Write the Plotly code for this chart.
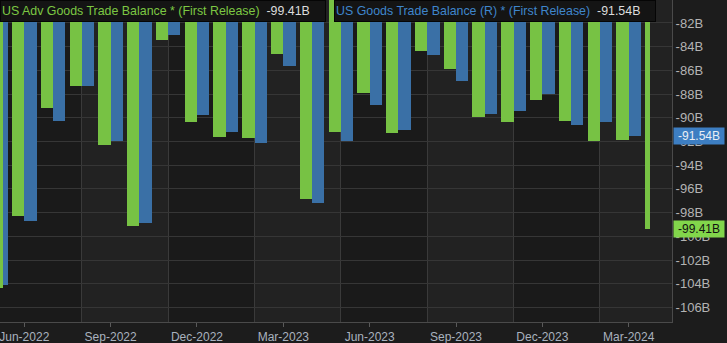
import plotly.graph_objects as go

# Monthly releases, May-2022 .. Apr-2024 (billions USD)
months = ["May-2022", "Jun-2022", "Jul-2022", "Aug-2022", "Sep-2022", "Oct-2022",
          "Nov-2022", "Dec-2022", "Jan-2023", "Feb-2023", "Mar-2023", "Apr-2023",
          "May-2023", "Jun-2023", "Jul-2023", "Aug-2023", "Sep-2023", "Oct-2023",
          "Nov-2023", "Dec-2023", "Jan-2024", "Feb-2024", "Mar-2024", "Apr-2024"]

adv_goods = [-104.4, -98.26, -89.15, -87.32, -92.3, -99.1,
             -83.43, -90.33, -91.6, -91.73, -84.64, -96.88,
             -91.2, -87.9, -91.28, -84.36, -85.86, -89.93,
             -90.33, -88.53, -90.27, -91.93, -91.9, -99.41]

goods_r = [-104.1, -98.68, -90.24, -87.3, -91.98, -98.9,
           -82.99, -89.76, -91.17, -92.1, -85.6, -97.19,
           -91.96, -88.92, -91.0, -84.7, -86.92, -89.65,
           -89.4, -87.97, -90.6, -90.38, -91.54, None]

tick_idx = [1, 4, 7, 10, 13, 16, 19, 22]
tick_text = [months[i] for i in tick_idx]
quarter_lines = [3, 6, 9, 12, 15, 18, 21]
y_ticks = list(range(-82, -107, -2))

GREEN = "#77c244"
BLUE = "#3a70a6"
FONT = "Liberation Sans, Arial"

x = list(range(len(months)))
n = len(months)

# bar geometry in month units
bw = 0.427
green_off = [-bw] * n
green_w = [bw] * n
blue_off = [0.0] * n
blue_w = [bw] * n
# first (partially visible) and latest groups are drawn narrower
green_off[0] = 0.25 - bw
blue_off[0] = 0.25
blue_w[0] = 0.174
green_w[-1] = 0.174

fig = go.Figure()
fig.add_trace(go.Bar(x=x, y=adv_goods, offset=green_off, width=green_w,
                     marker=dict(color=GREEN, line=dict(width=0)),
                     name="US Adv Goods Trade Balance * (First Release)"))
fig.add_trace(go.Bar(x=x, y=goods_r, offset=blue_off, width=blue_w,
                     marker=dict(color=BLUE, line=dict(width=0)),
                     name="US Goods Trade Balance (R) * (First Release)"))

x_min, x_max = 0.156, 23.505

# alternating quarter bands, lighter ones
shapes = []
band_edges = [x_min] + quarter_lines + [x_max]
for k in range(len(band_edges) - 1):
    if k % 2 == 1:
        shapes.append(dict(type="rect", xref="x", yref="paper",
                           x0=band_edges[k], x1=band_edges[k + 1], y0=0, y1=1,
                           fillcolor="#222222", line=dict(width=0), layer="below"))

# legend boxes along the top
def head(label, color, value):
    return (f"<span style='color:{color}'>{label}</span>"
            f"  <span style='color:#dcdcdc'>{value}</span>")

annotations = [
    dict(xref="paper", yref="paper", x=0, y=1, xanchor="left", yanchor="top",
         text=head("US Adv Goods Trade Balance * (First Release)", "#7cc843",
                   f"{adv_goods[-1]:.2f}B"),
         showarrow=False, align="left", width=322, height=18,
         bgcolor="#141414", bordercolor="#050505", borderwidth=1, borderpad=1,
         font=dict(family=FONT, size=12.4)),
    dict(xref="paper", yref="paper", x=334 / 672, y=1, xanchor="left", yanchor="top",
         text=head("US Goods Trade Balance (R) * (First Release)", "#3f86cc",
                   f"{goods_r[-2]:.2f}B"),
         showarrow=False, align="left", width=318, height=18,
         bgcolor="#141414", bordercolor="#050505", borderwidth=1, borderpad=1,
         font=dict(family=FONT, size=12.4)),
    # last-value tags on the value axis
    dict(xref="paper", yref="y", x=1.0, y=goods_r[-2], xanchor="left", yanchor="middle",
         text=f"{goods_r[-2]:.2f}B", showarrow=False, xshift=1,
         bgcolor="#3d7ec2", borderpad=1, width=48,
         font=dict(family=FONT, size=12, color="#e8eef5")),
    dict(xref="paper", yref="y", x=1.0, y=adv_goods[-1], xanchor="left", yanchor="middle",
         text=f"{adv_goods[-1]:.2f}B", showarrow=False, xshift=1,
         bgcolor="#82d64b", borderpad=1, width=48,
         font=dict(family=FONT, size=12, color="#111111")),
]

fig.update_layout(
    width=727, height=343,
    margin=dict(l=0, r=55, t=0, b=21, autoexpand=False),
    paper_bgcolor="#1c1c1c", plot_bgcolor="#1a1a1a",
    barmode="overlay", bargap=0, showlegend=False,
    shapes=shapes, annotations=annotations,
    xaxis=dict(range=[x_min, x_max], tickvals=tick_idx, ticktext=tick_text,
               ticks="outside", ticklen=4, tickcolor="#5a5a5a",
               ticklabeloverflow="allow",
               showgrid=False, zeroline=False,
               minor=dict(tickvals=quarter_lines, showgrid=True,
                          gridcolor="#3a3a3a", gridwidth=1, ticks=""),
               showline=True, linecolor="#4a4a4a", linewidth=1,
               tickfont=dict(family=FONT, size=12, color="#a9b2bf")),
    yaxis=dict(range=[-107.23, -80.06], side="right", tickvals=y_ticks,
               ticktext=[f"{v}B" for v in y_ticks],
               showgrid=True, gridcolor="#363636", gridwidth=1, zeroline=False,
               showline=True, linecolor="#4a4a4a", linewidth=1, ticks="",
               tickfont=dict(family=FONT, size=13, color="#b3b3b3")),
)

fig.write_html("out.html")
